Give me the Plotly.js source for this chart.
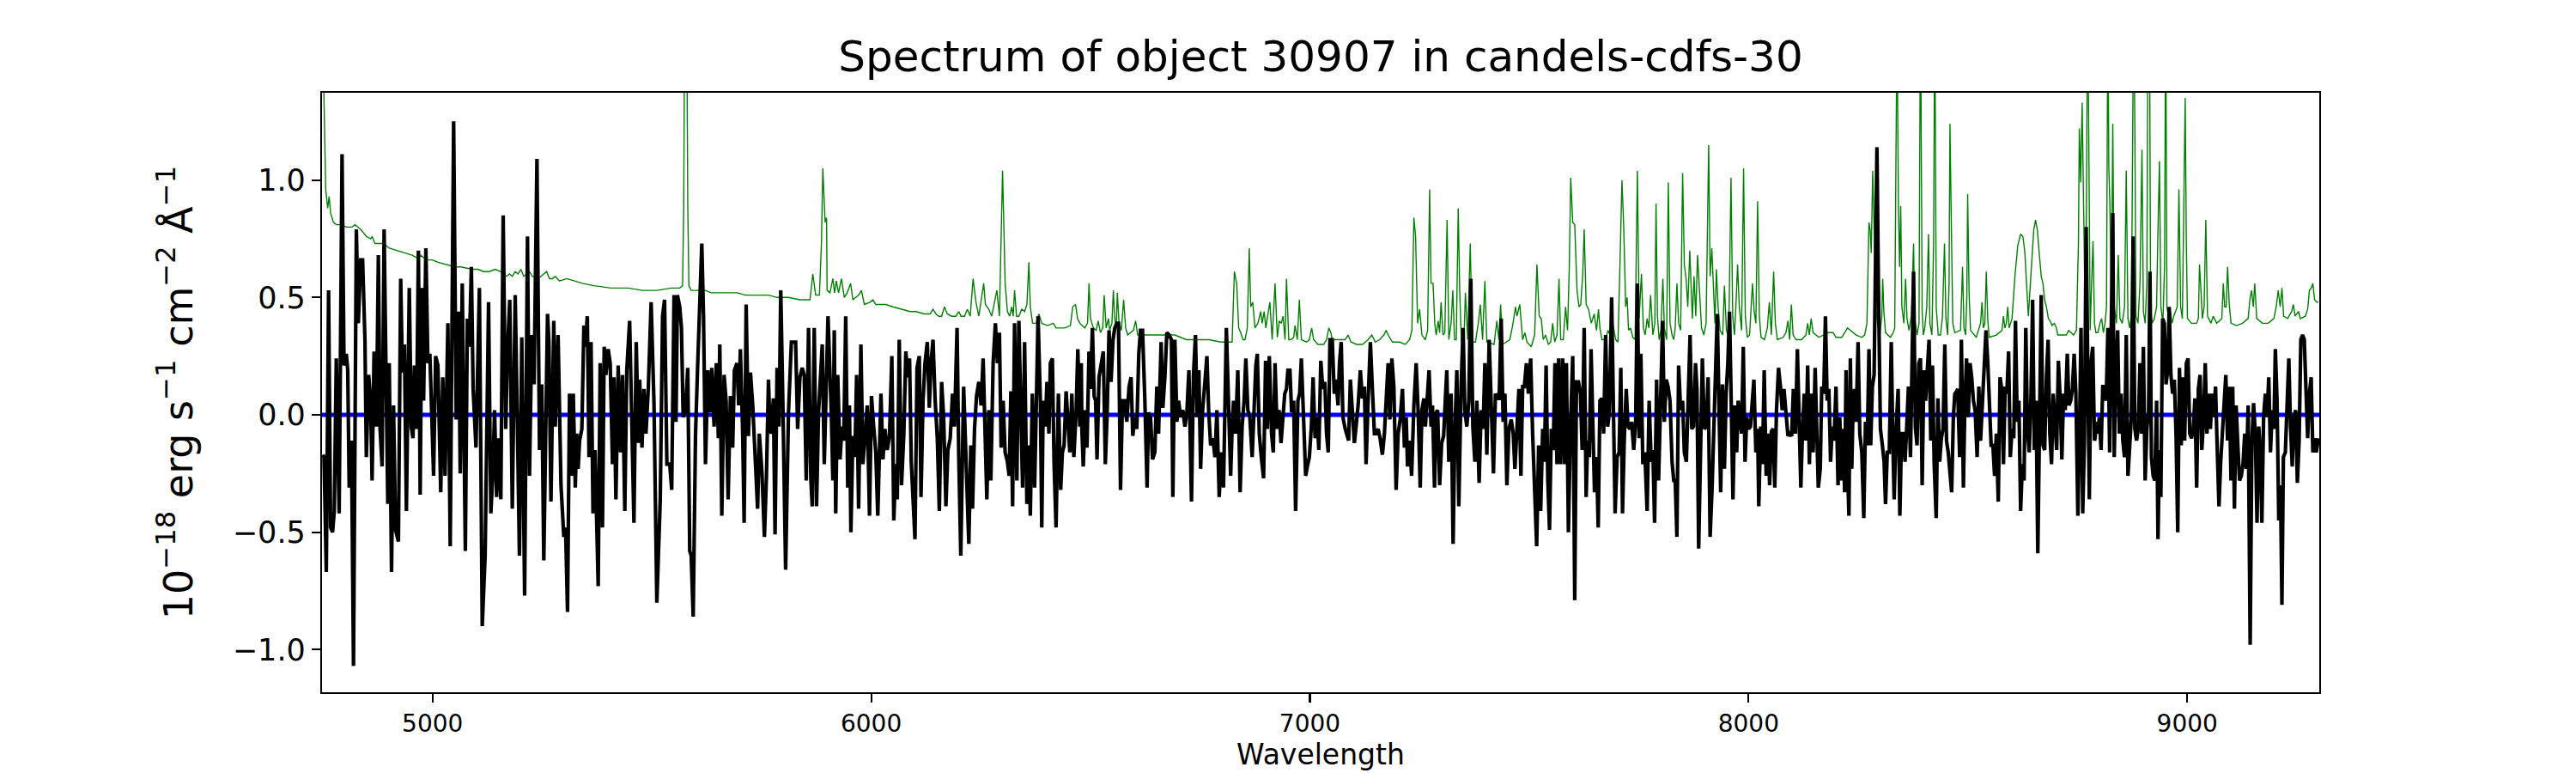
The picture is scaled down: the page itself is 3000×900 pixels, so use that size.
<!DOCTYPE html>
<html>
<head>
<meta charset="utf-8">
<script src="https://cdn.plot.ly/plotly-3.0.1.min.js"></script>
<style>html,body{margin:0;padding:0;background:#fff;}#chart{width:3000px;height:900px;}</style>
</head>
<body>
<div id="chart"></div>
<script>
// Observed spectrum: [wavelength (Å), flux (1e-18 erg/s/cm2/Å)]
const fluxPoints = [
[4750.0,-0.17],[4752.6,-0.18],[4757.8,-0.67],[4763.0,0.53],[4767.6,-0.48],[4772.1,-0.50],[4776.0,-0.41],[4780.6,0.24],[4787.1,-0.42],[4793.7,1.11],[4798.2,0.21],[4803.4,0.26],[4806.7,0.19],[4810.0,-0.31],[4815.2,-0.11],[4819.8,-1.07],[4826.3,0.79],[4830.8,0.39],[4836.1,0.66],[4840.6,0.66],[4845.9,0.32],[4849.1,-0.18],[4854.3,0.17],[4858.9,0.06],[4862.2,-0.28],[4866.7,0.27],[4872.0,-0.05],[4876.5,0.68],[4880.4,-0.06],[4885.0,-0.22],[4889.6,0.79],[4894.8,-0.06],[4898.0,-0.38],[4901.3,0.22],[4906.5,-0.67],[4911.1,0.04],[4915.7,-0.49],[4922.2,-0.54],[4927.4,0.58],[4931.3,0.18],[4935.9,0.30],[4940.4,-0.41],[4947.0,0.54],[4951.5,-0.05],[4955.4,-0.10],[4958.7,0.21],[4963.3,-0.06],[4967.8,0.70],[4971.8,-0.34],[4975.7,0.54],[4979.6,0.06],[4984.8,0.71],[4989.4,0.22],[4993.9,0.26],[4997.2,0.06],[5002.4,-0.26],[5007.0,0.25],[5012.2,0.21],[5018.7,-0.33],[5023.3,0.16],[5028.5,-0.26],[5035.0,0.39],[5040.3,-0.56],[5048.1,1.25],[5054.0,-0.02],[5059.2,0.44],[5063.1,-0.25],[5067.7,0.56],[5074.8,-0.58],[5079.4,0.41],[5084.0,0.29],[5088.5,0.63],[5092.5,0.11],[5099.0,-0.14],[5106.8,0.54],[5113.3,-0.90],[5119.9,-0.60],[5127.7,0.48],[5132.9,-0.42],[5137.5,-0.25],[5141.4,0.02],[5146.0,-0.35],[5151.2,-0.10],[5155.7,-0.36],[5161.0,0.85],[5166.8,-0.06],[5170.7,0.26],[5176.0,0.49],[5181.8,-0.40],[5188.4,0.51],[5192.9,0.02],[5198.1,-0.60],[5203.4,0.33],[5209.9,-0.77],[5216.4,0.76],[5221.0,-0.26],[5226.2,0.34],[5231.4,0.13],[5238.0,1.09],[5243.8,-0.15],[5249.0,0.13],[5253.6,-0.62],[5262.1,0.43],[5265.3,0.31],[5269.9,-0.37],[5276.4,0.40],[5279.7,-0.05],[5286.2,0.34],[5292.8,-0.30],[5299.3,-0.52],[5303.2,-0.48],[5307.7,-0.84],[5312.3,0.09],[5316.9,-0.26],[5320.8,0.09],[5323.4,-0.31],
[5325.4,-0.31],[5328.6,-0.08],[5331.9,-0.23],[5335.2,-0.11],[5340.4,-0.06],[5345.0,0.38],[5348.2,0.29],[5352.8,0.42],[5356.7,-0.18],[5361.3,0.31],[5365.8,-0.42],[5370.4,-0.15],[5377.6,-0.73],[5382.1,0.22],[5387.4,-0.48],[5391.3,0.29],[5395.2,0.17],[5400.4,0.28],[5405.0,0.22],[5410.2,-0.21],[5413.5,0.16],[5418.0,-0.36],[5423.2,0.21],[5428.5,-0.16],[5433.0,0.17],[5438.3,-0.41],[5442.8,0.19],[5449.3,0.40],[5453.9,0.04],[5459.1,-0.46],[5464.3,0.31],[5469.6,-0.12],[5472.2,0.15],[5477.4,-0.14],[5482.0,0.11],[5486.5,-0.08],[5491.8,0.11],[5498.3,0.48],[5504.8,0.05],[5511.3,-0.80],[5519.1,-0.36],[5524.4,0.42],[5528.9,0.49],[5534.2,-0.21],[5540.7,-0.21],[5545.2,-0.32],[5550.5,0.51],[5555.0,-0.03],[5558.3,0.51],[5563.5,0.46],[5567.4,0.37],[5571.3,-0.01],[5576.6,0.02],[5581.8,0.20],[5586.3,-0.58],[5589.6,-0.60],[5594.2,-0.86],[5599.4,-0.09],[5604.0,0.19],[5609.2,0.44],[5613.8,0.73],[5617.7,0.42],[5622.2,-0.21],[5627.5,0.19],[5632.0,0.01],[5636.6,0.20],[5641.8,-0.05],[5647.0,0.22],[5651.6,-0.10],[5654.8,0.30],[5659.4,-0.43],[5664.6,0.17],[5669.2,0.06],[5673.8,-0.36],[5679.0,0.08],[5684.2,-0.14],[5688.1,0.19],[5694.0,0.22],[5697.9,0.04],[5701.8,0.28],[5707.0,-0.08],[5710.3,-0.46],[5714.9,0.47],[5720.1,-0.09],[5724.7,0.18],[5729.9,0.04],[5736.4,-0.22],[5741.0,-0.40],[5744.9,-0.08],[5750.8,-0.24],[5756.6,-0.52],[5761.2,-0.26],[5765.8,0.15],[5769.0,-0.05],[5772.3,-0.08],[5776.9,0.07],[5780.8,-0.51],[5785.3,0.20],[5789.9,-0.05],[5793.8,0.53],[5798.4,0.07],[5804.9,-0.66],[5811.4,0.01],[5814.7,0.22],[5818.0,0.31],[5822.5,0.31],[5827.7,0.31],[5832.3,-0.06],[5837.5,0.16],[5842.7,0.20],[5847.3,0.17],[5851.9,-0.28],[5857.1,0.37],[5862.3,-0.27],[5865.6,-0.39],[5870.1,0.37],[5875.4,-0.39],[5879.9,0.01],[5883.2,0.12],[5888.4,0.30],[5893.0,-0.21],[5897.5,0.07],[5901.5,0.42],
[5909.3,-0.01],[5912.6,-0.28],[5915.8,0.36],[5919.1,-0.42],[5923.7,0.17],[5928.9,-0.19],[5933.4,-0.05],[5937.4,-0.11],[5941.9,0.42],[5946.5,-0.31],[5950.4,0.04],[5953.7,-0.50],[5958.2,-0.09],[5962.8,-0.18],[5966.7,0.17],[5971.3,-0.40],[5976.5,0.30],[5981.1,-0.21],[5985.6,-0.10],[5990.9,0.04],[5996.1,-0.43],[6000.6,0.08],[6005.2,-0.04],[6010.4,-0.16],[6015.0,-0.43],[6018.9,-0.08],[6022.2,0.09],[6026.7,-0.19],[6031.3,-0.06],[6036.5,-0.15],[6041.7,-0.09],[6047.0,0.25],[6051.5,-0.45],[6056.1,-0.21],[6059.4,-0.36],[6063.9,0.32],[6069.1,-0.30],[6074.4,-0.08],[6078.9,0.27],[6083.5,0.16],[6087.4,0.24],[6091.3,-0.20],[6095.2,-0.35],[6099.8,-0.53],[6104.4,0.20],[6109.6,0.25],[6113.5,-0.35],[6118.1,0.06],[6122.6,0.22],[6127.9,0.31],[6132.4,0.03],[6136.3,0.22],[6140.9,0.32],[6145.5,0.07],[6150.7,-0.10],[6155.3,-0.41],[6160.5,0.14],[6165.1,-0.01],[6170.3,-0.39],[6174.8,-0.15],[6180.1,-0.10],[6185.3,0.09],[6189.8,-0.05],[6195.7,0.37],[6199.6,-0.18],[6204.2,-0.60],[6210.7,0.12],[6215.9,-0.18],[6222.5,-0.55],[6227.0,-0.13],[6231.0,-0.40],[6235.5,-0.06],[6240.1,0.08],[6245.3,0.14],[6250.5,0.04],[6255.1,0.24],[6259.7,-0.14],[6263.6,-0.36],[6268.1,0.02],[6272.7,-0.28],[6277.9,0.22],[6283.1,0.39],[6287.7,0.22],[6292.3,0.35],[6296.2,-0.14],[6300.8,0.06],[6305.3,-0.16],[6310.5,-0.20],[6314.5,-0.26],[6318.4,0.10],[6322.3,-0.39],[6326.8,0.39],[6332.1,-0.28],[6336.6,0.40],[6341.2,0.01],[6345.1,-0.31],[6349.7,0.31],[6354.9,-0.38],[6359.5,-0.13],[6362.7,-0.43],[6367.3,0.09],[6372.5,-0.31],[6377.1,0.11],[6380.3,0.42],[6385.6,0.06],[6388.8,-0.48],[6392.1,0.06],[6396.7,-0.05],[6400.6,0.14],[6405.1,-0.08],[6408.4,0.22],[6413.0,0.24],[6416.9,-0.21],[6421.4,-0.48],[6426.7,0.09],[6431.9,-0.32],[6435.8,-0.16],[6439.7,-0.13],[6444.3,0.10],[6448.8,-0.06],[6452.8,-0.16],[6457.3,0.09],[6461.9,-0.18],[6467.1,0.01],[6471.0,0.28],[6475.6,-0.05],[6478.9,0.22],
[6480.2,-0.06],[6483.4,-0.22],[6488.0,0.02],[6491.9,-0.14],[6496.5,0.27],[6499.8,0.11],[6504.3,0.37],[6508.2,0.08],[6511.5,0.06],[6514.8,-0.19],[6519.3,0.16],[6523.9,0.21],[6529.1,0.27],[6533.7,-0.21],[6537.6,-0.01],[6542.2,0.36],[6546.7,0.14],[6551.3,0.32],[6555.2,0.37],[6559.8,0.39],[6563.7,0.39],[6568.3,-0.32],[6572.8,0.06],[6578.0,0.06],[6582.6,-0.03],[6587.8,0.12],[6592.4,0.16],[6596.3,-0.09],[6600.9,-0.01],[6605.4,-0.06],[6610.0,0.26],[6613.9,0.36],[6618.5,0.36],[6623.7,0.07],[6628.9,-0.31],[6632.2,0.01],[6636.8,-0.01],[6641.3,-0.19],[6646.5,-0.16],[6651.1,0.12],[6655.0,-0.08],[6660.9,0.31],[6664.8,0.03],[6669.4,0.16],[6673.9,0.35],[6679.2,0.34],[6684.4,0.32],[6687.6,-0.35],[6692.2,0.32],[6696.8,-0.03],[6700.7,0.06],[6705.3,-0.01],[6710.5,0.02],[6715.1,-0.05],[6719.6,0.01],[6724.2,0.19],[6730.1,-0.37],[6734.6,0.17],[6739.2,0.34],[6743.1,-0.01],[6747.0,0.19],[6750.9,-0.23],[6755.5,0.02],[6760.7,0.14],[6765.3,0.25],[6769.2,0.02],[6773.8,-0.13],[6779.0,-0.10],[6783.6,-0.18],[6788.1,0.02],[6793.3,-0.35],[6797.9,-0.16],[6803.1,-0.31],[6809.6,0.37],[6814.2,0.01],[6819.4,-0.26],[6822.7,-0.06],[6826.0,0.06],[6830.5,-0.08],[6835.7,0.19],[6841.0,-0.33],[6845.5,-0.05],[6850.1,0.06],[6854.0,0.24],[6858.6,0.02],[6863.1,-0.01],[6868.4,-0.18],[6872.3,0.06],[6876.8,0.21],[6880.1,0.26],[6884.7,-0.08],[6889.2,-0.18],[6894.5,-0.27],[6899.0,0.23],[6902.9,-0.06],[6907.5,0.25],[6912.7,-0.08],[6916.6,-0.16],[6920.6,0.22],[6925.1,-0.06],[6929.7,0.02],[6934.2,-0.12],[6938.2,-0.01],[6942.7,0.09],[6946.6,0.11],[6949.9,0.19],[6954.5,0.19],[6958.4,0.01],[6963.0,0.06],[6967.5,-0.41],[6972.7,0.06],[6976.7,0.09],[6980.6,0.24],[6985.8,-0.01],[6990.4,-0.26],[6994.3,-0.22],[6998.8,-0.18],[7003.4,-0.05],[7007.3,0.16],[7011.9,-0.10],[7016.5,-0.01],[7020.4,-0.15],[7024.9,0.23],[7029.5,0.11],[7034.1,0.14],[7038.0,-0.08],[7041.9,-0.16],[7045.8,0.32],[7051.0,0.32],[7055.6,0.09],
[7059.6,0.15],[7064.2,0.04],[7067.5,0.22],[7071.4,0.31],[7075.3,-0.01],[7080.5,-0.06],[7083.8,-0.08],[7088.3,-0.11],[7092.3,0.15],[7096.8,0.01],[7101.4,-0.12],[7105.3,-0.05],[7109.9,0.04],[7115.1,0.19],[7119.7,0.07],[7124.2,0.12],[7128.1,-0.21],[7132.7,0.06],[7137.9,0.31],[7142.5,0.11],[7147.1,-0.08],[7151.0,-0.08],[7155.5,-0.06],[7160.1,-0.10],[7165.3,-0.17],[7169.9,-0.08],[7173.8,0.06],[7178.4,0.22],[7182.3,-0.02],[7186.9,0.24],[7191.4,0.12],[7196.6,-0.32],[7201.2,-0.08],[7205.8,-0.02],[7211.0,0.11],[7215.6,-0.14],[7219.5,-0.01],[7222.7,-0.22],[7227.3,-0.11],[7231.9,-0.26],[7237.1,0.04],[7242.3,0.22],[7246.9,0.01],[7251.5,-0.31],[7255.4,0.02],[7259.9,0.07],[7263.2,-0.05],[7267.8,0.07],[7271.7,0.19],[7276.2,-0.05],[7279.5,0.04],[7284.1,-0.31],[7288.0,0.01],[7291.2,0.02],[7295.8,-0.30],[7300.4,-0.12],[7304.9,-0.09],[7308.9,0.07],[7312.1,0.19],[7316.7,-0.20],[7321.9,0.09],[7326.5,-0.55],[7330.4,-0.08],[7335.0,0.19],[7339.5,-0.39],[7344.7,0.12],[7349.3,0.37],[7353.2,0.02],[7357.8,-0.05],[7362.3,0.06],[7366.9,0.58],[7371.5,-0.05],[7376.1,-0.20],[7380.6,0.06],[7385.8,-0.29],[7390.4,0.02],[7395.0,-0.06],[7398.9,0.22],[7403.4,-0.17],[7408.7,0.32],[7413.2,0.06],[7418.5,-0.25],[7423.0,0.09],[7427.6,0.07],[7431.5,0.07],[7436.1,0.41],[7440.6,-0.03],[7444.6,0.09],[7449.1,-0.30],[7453.7,-0.06],[7458.9,-0.02],[7463.5,-0.08],[7467.4,-0.23],[7471.9,-0.08],[7476.5,0.11],[7481.1,-0.26],[7485.0,0.12],[7488.9,0.12],[7493.5,0.22],[7498.1,0.09],[7503.3,0.24],[7507.8,-0.08],[7512.4,-0.36],[7517.0,-0.56],[7521.5,-0.13],[7526.1,-0.41],[7530.7,-0.06],[7534.6,-0.20],[7538.5,0.21],[7542.4,-0.28],[7546.3,-0.49],[7550.3,-0.06],[7554.8,-0.15],[7558.7,0.22],[7563.3,-0.21],[7567.2,0.24],[7571.8,-0.21],[7576.3,0.24],[7580.9,-0.21],[7584.8,0.22],[7589.4,-0.50],[7593.9,-0.06],[7599.2,0.25],[7603.8,-0.79],[7607.7,0.14],[7612.2,0.14],[7616.8,0.09],[7620.7,-0.15],[7625.3,0.37],[7629.8,-0.35],
[7633.1,-0.11],[7637.0,-0.18],[7641.0,0.28],[7644.9,-0.11],[7648.8,-0.33],[7653.4,-0.18],[7657.3,-0.48],[7661.2,0.06],[7665.7,0.07],[7669.7,-0.08],[7674.2,0.34],[7678.8,-0.05],[7682.7,0.01],[7687.9,0.50],[7691.8,-0.11],[7695.8,-0.42],[7700.3,-0.18],[7704.9,-0.16],[7708.8,0.20],[7712.7,-0.42],[7716.6,-0.11],[7721.2,0.11],[7725.1,-0.05],[7729.7,-0.06],[7733.6,-0.03],[7738.2,-0.15],[7742.7,-0.03],[7746.6,0.56],[7750.6,-0.10],[7754.5,0.26],[7759.0,-0.21],[7763.6,-0.16],[7768.8,-0.41],[7773.4,0.06],[7778.0,-0.20],[7781.9,-0.15],[7785.8,-0.46],[7790.4,0.15],[7794.9,-0.28],[7799.5,0.14],[7804.1,0.40],[7808.0,-0.03],[7812.5,0.15],[7816.5,0.12],[7821.0,0.06],[7825.6,-0.20],[7829.5,-0.28],[7832.8,-0.28],[7836.7,-0.52],[7840.6,0.21],[7845.2,0.02],[7849.7,0.06],[7853.6,-0.16],[7858.2,-0.20],[7862.8,0.06],[7866.7,0.34],[7870.6,-0.06],[7874.5,-0.05],[7879.1,0.22],[7882.4,0.11],[7886.3,-0.57],[7890.2,-0.08],[7894.7,0.24],[7899.3,-0.06],[7903.9,-0.05],[7907.8,0.16],[7912.4,-0.52],[7916.9,-0.31],[7920.8,-0.10],[7924.8,0.22],[7928.7,0.43],[7932.6,0.04],[7936.5,-0.33],[7940.4,0.13],[7945.0,-0.23],[7948.9,0.09],[7952.8,0.22],[7956.7,0.44],[7960.6,0.06],[7964.5,-0.36],[7968.5,0.04],[7973.0,-0.16],[7976.3,0.06],[7980.9,-0.01],[7984.1,-0.08],[7988.0,0.29],[7992.0,-0.20],[7995.9,-0.01],[8000.4,-0.06],[8004.4,-0.05],[8008.3,0.06],[8012.2,0.15],[8016.7,-0.16],[8020.7,-0.06],[8023.3,-0.39],[8027.8,-0.05],[8031.7,-0.21],[8035.7,0.19],[8040.2,-0.26],[8044.1,-0.08],[8048.1,-0.30],[8052.0,-0.07],[8055.9,-0.06],[8059.8,-0.31],[8063.7,0.02],[8068.3,0.20],[8072.8,0.12],[8076.8,0.02],[8080.7,0.11],[8085.2,0.01],[8089.8,-0.09],[8093.7,-0.08],[8098.3,-0.09],[8102.2,0.11],[8106.8,-0.08],[8111.3,0.28],[8115.3,-0.11],[8119.2,-0.31],[8123.1,-0.06],[8127.0,0.09],[8130.9,-0.11],[8134.8,0.21],[8138.7,-0.21],[8142.7,0.09],[8147.2,-0.16],[8151.8,0.20],[8155.7,-0.08],[8159.0,-0.31],[8163.5,-0.23],[8166.8,0.12],[8171.4,0.09],[8175.3,0.42],[8179.2,0.06],[8183.1,0.11],[8187.0,-0.20],[8190.9,-0.05],[8194.8,-0.11],[8199.4,0.12],[8204.0,-0.30],[8207.9,-0.01],
[8212.5,-0.28],[8215.7,-0.06],[8219.0,-0.33],[8222.3,0.19],[8225.5,-0.21],[8228.8,-0.43],[8232.1,0.24],[8235.3,-0.23],[8238.6,0.06],[8241.8,0.11],[8245.1,-0.03],[8249.7,0.31],[8253.6,-0.08],[8258.2,-0.16],[8262.7,-0.44],[8266.6,-0.03],[8270.6,-0.13],[8274.5,0.28],[8278.4,-0.13],[8282.3,0.12],[8286.2,0.17],[8289.5,0.81],[8292.7,1.14],[8296.0,0.56],[8300.6,-0.06],[8305.1,-0.13],[8309.0,-0.20],[8312.3,-0.38],[8316.2,-0.16],[8320.8,-0.16],[8325.4,0.31],[8328.6,-0.08],[8331.9,-0.36],[8336.4,-0.06],[8341.0,0.11],[8344.9,-0.43],[8348.8,-0.08],[8352.8,-0.08],[8356.7,-0.20],[8360.6,-0.05],[8364.5,0.12],[8369.1,-0.18],[8372.3,0.12],[8376.2,0.61],[8380.2,-0.05],[8384.1,-0.13],[8388.0,0.22],[8391.9,0.24],[8395.8,-0.30],[8399.7,0.19],[8403.6,0.06],[8407.6,0.17],[8411.5,0.32],[8415.4,-0.11],[8419.3,0.21],[8423.2,-0.21],[8427.8,-0.44],[8431.7,0.07],[8435.6,-0.20],[8439.5,-0.10],[8443.4,-0.06],[8447.4,0.30],[8451.3,-0.11],[8455.2,-0.16],[8459.1,-0.26],[8463.0,-0.33],[8466.9,-0.01],[8470.2,0.09],[8474.1,0.10],[8476.7,0.11],[8481.3,-0.18],[8485.2,0.32],[8489.8,-0.31],[8493.0,0.04],[8496.9,0.24],[8500.9,-0.01],[8504.8,0.22],[8508.7,0.16],[8512.6,0.06],[8516.5,0.02],[8521.1,-0.18],[8525.0,0.12],[8528.9,-0.11],[8532.8,0.06],[8537.4,0.22],[8541.3,0.36],[8545.2,0.23],[8549.1,-0.01],[8553.0,-0.13],[8557.0,-0.13],[8560.9,-0.26],[8564.8,-0.08],[8569.3,-0.37],[8573.3,0.16],[8577.2,0.11],[8581.1,-0.21],[8585.0,0.12],[8588.9,0.09],[8592.8,0.27],[8596.7,-0.18],[8600.7,-0.06],[8604.6,-0.10],[8608.5,0.40],[8612.4,-0.03],[8616.3,0.06],[8620.2,-0.41],[8624.2,-0.21],[8628.1,-0.28],[8632.0,0.37],[8635.9,-0.06],[8639.8,-0.16],[8643.7,0.07],[8647.6,0.49],[8651.5,-0.15],[8655.5,0.06],[8659.4,-0.59],[8663.3,-0.08],[8667.2,0.51],[8671.1,-0.13],[8675.0,-0.15],[8679.0,0.16],[8682.9,0.32],[8686.8,-0.08],[8690.7,-0.21],[8694.6,0.09],[8698.5,-0.06],[8702.4,-0.15],[8706.3,0.23],[8710.3,0.07],[8714.2,-0.19],[8718.1,0.09],[8722.0,0.02],[8726.6,0.26],[8730.5,0.04],[8734.4,0.06],[8738.3,0.11],[8742.2,0.26],[8746.2,0.09],[8750.7,-0.43],[8754.6,-0.06],[8757.9,0.37],[8761.8,-0.42],[8765.7,-0.11],[8769.6,0.80],[8773.6,-0.06],[8776.8,-0.36],[8780.7,0.22],[8784.6,0.29],[8788.6,-0.11],
[8789.9,-0.10],[8793.1,-0.03],[8796.4,-0.08],[8799.7,-0.01],[8803.6,-0.15],[8807.5,0.12],[8811.4,0.12],[8815.3,0.06],[8819.2,0.37],[8823.2,-0.16],[8827.1,0.37],[8830.3,0.86],[8833.6,-0.18],[8837.5,0.19],[8841.4,0.36],[8845.3,-0.08],[8849.3,0.09],[8853.2,-0.11],[8857.1,-0.18],[8861.0,0.34],[8864.9,-0.26],[8868.8,-0.16],[8872.7,-0.01],[8876.7,0.76],[8880.6,-0.06],[8884.5,-0.11],[8888.4,-0.06],[8892.3,0.22],[8896.2,-0.08],[8900.1,0.29],[8904.1,-0.28],[8908.0,-0.06],[8911.9,0.01],[8915.1,0.61],[8918.4,-0.18],[8922.3,-0.26],[8926.2,-0.28],[8930.2,0.06],[8933.4,-0.53],[8936.7,-0.15],[8939.9,-0.35],[8943.9,0.41],[8947.8,0.39],[8951.7,0.13],[8955.6,0.19],[8958.9,0.46],[8962.8,0.17],[8966.7,0.09],[8970.6,0.15],[8974.5,-0.08],[8978.4,-0.50],[8982.3,0.20],[8986.3,-0.13],[8990.2,0.16],[8994.1,-0.11],[8998.0,0.22],[9001.9,0.24],[9005.8,-0.08],[9009.7,-0.10],[9013.7,-0.06],[9017.6,0.07],[9021.5,-0.31],[9025.4,0.11],[9029.3,0.17],[9033.2,-0.15],[9037.1,-0.03],[9041.1,0.22],[9045.0,-0.08],[9048.9,0.09],[9052.8,-0.06],[9056.7,0.09],[9060.6,-0.01],[9064.5,0.12],[9068.5,-0.15],[9072.4,-0.39],[9076.3,-0.20],[9080.2,-0.06],[9084.1,0.06],[9088.0,0.17],[9091.9,-0.11],[9095.9,0.12],[9099.8,-0.28],[9103.7,0.12],[9107.6,-0.40],[9111.5,0.04],[9115.4,-0.13],[9119.3,-0.28],[9123.3,-0.26],[9127.2,-0.21],[9131.1,-0.08],[9135.0,-0.23],[9138.9,0.04],[9143.5,-0.98],[9147.4,-0.11],[9151.3,0.05],[9155.2,-0.08],[9159.1,-0.46],[9163.1,-0.05],[9167.0,-0.18],[9170.2,-0.46],[9174.1,-0.01],[9178.1,0.09],[9182.0,-0.01],[9185.9,0.16],[9189.8,-0.16],[9193.7,0.02],[9197.6,-0.06],[9200.9,0.28],[9204.8,0.06],[9208.7,-0.45],[9212.6,-0.30],[9215.9,-0.81],[9219.2,-0.18],[9223.7,-0.16],[9227.7,0.09],[9231.6,0.24],[9235.5,-0.05],[9239.4,-0.22],[9243.3,-0.01],[9247.2,0.02],[9251.1,-0.29],[9255.1,-0.11],[9259.0,0.32],[9262.9,0.34],[9266.8,0.32],[9270.7,0.09],[9274.6,-0.10],[9278.5,0.09],[9282.5,0.16],[9286.4,-0.16],[9290.3,-0.10],[9294.2,-0.16],[9298.8,-0.10]
];

// Noise / sky spectrum: [wavelength (Å), value]
const noisePoints = [
[4749.9,1.60],[4751.2,1.45],[4756.5,0.96],[4761.0,0.88],[4764.3,0.93],[4767.6,0.86],[4774.1,0.82],[4780.6,0.81],[4790.4,0.81],[4803.4,0.80],[4816.5,0.80],[4823.0,0.81],[4836.1,0.79],[4849.1,0.76],[4858.9,0.75],[4862.2,0.76],[4868.7,0.73],[4878.5,0.73],[4888.3,0.73],[4901.3,0.71],[4917.6,0.70],[4933.9,0.69],[4953.5,0.68],[4963.3,0.67],[4973.1,0.68],[4986.1,0.66],[4999.2,0.66],[5012.2,0.65],[5031.8,0.64],[5051.4,0.63],[5064.4,0.63],[5090.5,0.62],[5103.5,0.62],[5116.6,0.61],[5129.6,0.61],[5142.7,0.62],[5155.7,0.61],[5168.8,0.59],[5175.3,0.60],[5181.8,0.59],[5188.4,0.61],[5194.9,0.60],[5201.4,0.62],[5207.9,0.59],[5221.0,0.61],[5227.5,0.59],[5240.5,0.58],[5253.6,0.60],[5260.1,0.61],[5266.6,0.58],[5273.2,0.58],[5279.7,0.59],[5289.5,0.57],[5305.8,0.58],[5325.4,0.57],
[5341.7,0.56],[5367.8,0.55],[5406.9,0.54],[5446.1,0.54],[5478.7,0.53],[5511.3,0.53],[5543.9,0.54],[5563.5,0.54],[5570.0,0.55],[5572.6,0.89],[5574.6,1.60],[5576.6,2.50],[5579.8,1.60],[5581.8,0.89],[5584.4,0.55],[5589.6,0.53],[5596.1,0.53],[5615.7,0.53],[5622.2,0.53],[5635.3,0.52],[5654.8,0.52],[5674.4,0.52],[5694.0,0.52],[5713.6,0.51],[5739.7,0.51],[5765.8,0.51],[5785.3,0.50],[5811.4,0.50],[5837.5,0.49],[5860.4,0.49],[5866.9,0.60],[5873.4,0.51],[5881.9,0.51],[5886.5,0.73],[5889.7,1.05],[5893.0,0.86],[5894.9,0.82],[5898.2,0.84],
[5899.5,0.53],[5906.0,0.52],[5912.6,0.58],[5916.5,0.52],[5920.4,0.57],[5925.6,0.52],[5932.1,0.58],[5938.7,0.50],[5945.2,0.52],[5953.0,0.56],[5958.2,0.49],[5964.8,0.50],[5971.3,0.51],[5977.8,0.53],[5984.3,0.47],[5997.4,0.48],[6003.9,0.49],[6010.4,0.47],[6023.5,0.47],[6033.3,0.47],[6049.6,0.46],[6069.1,0.45],[6088.7,0.44],[6101.8,0.44],[6121.3,0.43],[6134.4,0.43],[6140.9,0.45],[6147.4,0.43],[6154.0,0.42],[6160.5,0.42],[6167.0,0.46],[6173.5,0.43],[6183.3,0.42],[6193.1,0.42],[6199.6,0.44],[6204.8,0.42],[6212.7,0.42],[6219.2,0.45],[6225.7,0.42],[6232.2,0.58],[6238.8,0.48],[6245.3,0.42],[6256.4,0.56],[6260.3,0.47],[6268.1,0.45],[6274.7,0.42],[6279.9,0.47],[6286.4,0.53],[6292.3,0.42],[6296.2,0.84],[6299.4,1.04],[6302.7,0.78],[6305.3,0.56],[6310.5,0.44],[6315.8,0.42],[6320.3,0.46],[6323.6,0.42],[6326.8,0.53],[6331.4,0.42],[6336.6,0.42],[6343.2,0.45],[6349.7,0.44],[6354.9,0.47],[6359.5,0.65],[6362.7,0.46],[6367.9,0.39],[6375.8,0.39],[6382.3,0.43],[6388.8,0.39],[6401.9,0.38],[6414.9,0.39],[6421.4,0.37],[6428.0,0.37],[6441.0,0.37],[6454.1,0.38],[6459.3,0.46],[6465.8,0.47],[6470.4,0.41],[6475.6,0.39],[6480.2,0.38],
[6486.7,0.37],[6493.2,0.39],[6496.5,0.56],[6499.8,0.41],[6506.3,0.37],[6512.8,0.36],[6517.4,0.40],[6522.6,0.35],[6527.8,0.37],[6531.1,0.51],[6535.6,0.37],[6540.9,0.41],[6543.5,0.36],[6548.7,0.39],[6552.0,0.53],[6555.2,0.41],[6558.5,0.37],[6561.1,0.52],[6565.0,0.39],[6570.2,0.36],[6575.4,0.49],[6580.0,0.37],[6584.6,0.34],[6597.6,0.36],[6602.8,0.40],[6607.4,0.34],[6620.5,0.34],[6640.0,0.34],[6666.1,0.34],[6692.2,0.34],[6718.3,0.32],[6744.4,0.32],[6770.5,0.32],[6796.6,0.31],[6822.7,0.31],[6827.9,0.61],[6833.1,0.56],[6837.7,0.37],[6842.3,0.35],[6847.5,0.32],[6852.1,0.32],[6857.3,0.37],[6861.8,0.71],[6865.1,0.46],[6869.7,0.48],[6874.9,0.37],[6881.4,0.39],[6888.0,0.44],[6891.2,0.39],[6895.8,0.44],[6899.7,0.37],[6903.6,0.42],[6908.8,0.48],[6914.0,0.32],[6920.6,0.56],[6925.8,0.33],[6930.3,0.40],[6934.9,0.39],[6938.8,0.42],[6943.4,0.32],[6946.7,0.58],[6951.9,0.32],[6956.4,0.32],[6963.0,0.33],[6966.2,0.38],[6971.4,0.32],[6976.0,0.49],[6980.6,0.32],[6992.3,0.31],[6998.8,0.32],[7004.1,0.37],[7008.6,0.32],[7018.4,0.30],[7031.5,0.30],[7038.0,0.32],[7043.2,0.37],[7047.8,0.35],[7051.0,0.32],
[7060.9,0.32],[7070.7,0.32],[7080.5,0.32],[7087.0,0.34],[7093.6,0.31],[7106.6,0.30],[7119.7,0.30],[7132.7,0.32],[7141.2,0.34],[7149.0,0.31],[7158.8,0.32],[7168.6,0.34],[7173.8,0.36],[7178.4,0.34],[7188.2,0.31],[7204.5,0.31],[7217.5,0.30],[7227.3,0.32],[7232.5,0.36],[7237.1,0.84],[7241.0,0.76],[7245.6,0.39],[7250.1,0.45],[7255.4,0.34],[7263.2,0.32],[7268.4,0.36],[7273.0,0.96],[7276.2,0.56],[7280.8,0.56],[7284.7,0.39],[7288.0,0.34],[7292.5,0.40],[7295.8,0.35],[7299.1,0.48],[7303.6,0.34],[7307.6,0.35],[7312.8,0.83],[7316.7,0.32],[7321.9,0.39],[7325.8,0.53],[7329.8,0.32],[7333.7,0.32],[7338.2,0.88],[7341.5,0.53],[7345.4,0.31],[7351.3,0.32],[7354.5,0.52],[7359.8,0.32],[7365.6,0.73],[7370.2,0.31],[7377.4,0.31],[7383.9,0.39],[7388.5,0.47],[7393.7,0.32],[7398.9,0.57],[7403.4,0.31],[7419.8,0.30],[7426.3,0.40],[7430.9,0.32],[7434.8,0.47],[7439.3,0.30],[7455.7,0.32],[7462.2,0.38],[7468.7,0.46],[7472.0,0.42],[7478.5,0.47],[7485.0,0.32],[7490.2,0.35],[7494.8,0.31],[7504.6,0.29],[7512.4,0.34],[7517.6,0.64],[7522.8,0.42],[7527.4,0.41],[7532.0,0.32],[7537.2,0.34],[7543.7,0.30],[7548.9,0.31],[7553.5,0.39],[7558.1,0.31],[7563.3,0.34],[7567.9,0.58],[7571.8,0.32],[7577.7,0.32],[7582.9,0.46],[7587.4,0.36],[7591.4,0.63],[7594.6,1.01],[7599.2,0.82],[7603.8,0.81],[7609.0,0.53],[7613.5,0.46],[7617.5,0.47],[7622.0,0.60],[7625.3,0.79],[7629.8,0.47],[7635.1,0.45],
[7641.6,0.39],[7648.1,0.43],[7653.4,0.36],[7657.9,0.45],[7661.2,0.37],[7665.7,0.32],[7674.2,0.32],[7679.5,0.36],[7684.0,0.34],[7690.5,0.39],[7697.1,0.32],[7702.3,0.31],[7706.9,0.64],[7711.4,1.00],[7715.3,0.81],[7719.9,0.46],[7723.2,0.50],[7726.4,0.36],[7731.0,0.37],[7736.2,0.33],[7741.4,0.32],[7746.6,1.04],[7750.6,0.41],[7755.8,0.60],[7760.3,0.37],[7764.3,0.34],[7768.8,0.41],[7772.7,0.37],[7776.7,0.51],[7781.9,0.34],[7786.4,0.39],[7789.1,0.90],[7792.3,0.42],[7796.2,0.32],[7800.1,0.36],[7804.7,0.58],[7808.0,0.37],[7813.2,0.32],[7817.1,0.99],[7821.0,0.39],[7825.6,0.34],[7829.5,0.32],[7832.8,0.37],[7836.7,0.56],[7840.6,0.39],[7845.2,0.36],[7849.7,1.03],[7853.6,0.64],[7857.6,0.58],[7861.5,0.46],[7866.0,0.70],[7870.0,0.49],[7871.9,0.41],[7875.8,0.59],[7879.7,0.42],[7883.7,0.68],[7887.6,0.53],[7892.8,0.37],[7898.0,0.34],[7903.2,0.39],[7909.1,1.15],[7912.4,0.59],[7916.3,0.71],[7920.2,0.53],[7923.4,0.39],[7926.7,0.62],[7930.6,0.46],[7935.2,0.36],[7941.1,0.34],[7945.0,0.55],[7949.5,0.36],[7954.8,0.33],[7960.0,1.01],[7963.9,0.42],[7967.8,0.34],[7971.1,0.46],[7975.0,0.64],[7978.9,0.46],[7984.1,0.36],[7988.7,1.05],[7992.6,0.42],[7997.2,0.33],[8002.4,0.34],[8008.9,0.56],[8012.8,0.44],[8016.7,0.39],[8020.7,0.91],[8024.6,0.42],[8028.5,0.33],[8036.3,0.32],[8042.8,0.37],[8047.4,0.48],[8052.0,0.34],[8057.2,0.61],[8061.1,0.39],[8065.7,0.32],[8078.7,0.33],[8085.2,0.35],[8089.8,0.40],[8093.7,0.32],[8097.6,0.47],[8101.6,0.34],[8108.1,0.32],[8121.1,0.32],[8130.9,0.34],[8134.8,0.39],[8138.7,0.34],[8142.7,0.41],[8147.2,0.35],[8160.3,0.33],[8181.2,0.35],[8192.9,0.35],[8199.4,0.33],[8212.5,0.33],
[8219.0,0.35],[8225.5,0.37],[8232.1,0.36],[8245.1,0.34],[8258.2,0.33],[8264.7,0.34],[8269.9,0.39],[8274.5,0.82],[8277.1,0.79],[8279.7,0.69],[8283.0,1.04],[8286.2,0.76],[8290.8,0.44],[8294.0,0.39],[8299.3,0.34],[8303.8,0.42],[8305.8,0.58],[8308.4,0.44],[8312.3,0.35],[8323.4,0.33],[8329.9,0.35],[8333.2,0.37],[8336.4,0.89],[8338.4,1.70],[8341.7,0.89],[8344.3,0.63],[8346.9,0.89],[8349.5,0.46],[8354.1,0.39],[8358.0,0.58],[8361.2,0.41],[8365.8,0.36],[8371.0,0.42],[8374.3,0.61],[8376.2,0.73],[8378.8,0.41],[8384.1,0.34],[8388.6,0.39],[8391.9,1.80],[8395.8,0.44],[8398.4,0.34],[8401.7,0.37],[8406.3,0.46],[8410.2,0.77],[8413.4,0.39],[8418.0,0.34],[8421.9,0.73],[8424.5,1.80],[8427.8,0.46],[8432.3,0.34],[8437.6,0.34],[8442.1,0.42],[8446.7,0.73],[8449.9,0.41],[8453.9,0.34],[8457.1,0.56],[8459.1,1.24],[8462.3,0.81],[8465.6,0.39],[8470.2,0.35],[8483.2,0.36],[8487.8,0.63],[8491.1,0.37],[8495.0,0.34],[8497.6,0.51],[8499.5,0.94],[8502.8,0.51],[8506.1,0.36],[8519.1,0.33],[8528.9,0.39],[8532.2,0.48],[8535.4,0.37],[8538.7,0.39],[8541.9,0.61],[8545.2,0.41],[8548.5,0.33],[8564.8,0.34],[8577.8,0.36],[8581.1,0.42],[8584.4,0.37],[8587.6,0.39],[8590.9,0.46],[8594.1,0.37],[8600.7,0.41],[8607.2,0.59],[8613.7,0.72],[8620.2,0.77],[8625.5,0.76],[8630.0,0.69],[8634.6,0.53],[8637.9,0.42],[8641.8,0.54],[8646.3,0.69],[8650.3,0.79],[8654.2,0.83],[8658.1,0.79],[8662.6,0.69],[8667.2,0.59],[8671.1,0.56],[8675.0,0.49],[8679.0,0.46],[8683.5,0.41],[8687.4,0.40],[8692.0,0.38],[8697.2,0.39],[8701.8,0.37],[8705.0,0.34],[8724.6,0.34],[8729.8,0.36],[8740.9,0.34],[8747.5,0.36],[8752.0,0.73],[8754.0,1.22],[8757.2,0.99],[8760.5,1.33],[8763.8,0.89],[8767.7,0.36],[8770.3,0.89],[8772.9,1.80],[8775.5,1.20],[8778.8,0.36],[8782.0,0.56],[8785.3,0.74],[8788.6,0.39],
[8791.8,0.35],[8796.4,0.35],[8801.0,0.39],[8804.9,0.41],[8808.8,0.35],[8812.7,0.39],[8816.0,0.46],[8819.2,1.80],[8821.2,1.06],[8823.8,0.89],[8827.1,0.42],[8830.3,1.24],[8833.6,0.46],[8838.8,0.39],[8842.7,0.68],[8846.6,0.41],[8851.9,0.39],[8857.1,0.46],[8861.0,1.04],[8864.9,0.41],[8868.8,0.37],[8872.7,0.42],[8875.4,1.15],[8878.0,1.80],[8880.6,1.23],[8883.2,0.42],[8887.7,0.39],[8892.3,0.56],[8896.9,1.13],[8900.1,0.44],[8904.1,0.39],[8908.0,0.56],[8910.6,1.80],[8913.9,1.80],[8916.5,0.46],[8919.8,0.39],[8925.0,0.41],[8930.2,0.46],[8932.8,0.74],[8936.7,1.08],[8940.0,0.46],[8944.5,0.39],[8948.4,0.64],[8951.0,1.80],[8953.7,0.46],[8957.6,0.41],[8961.5,0.44],[8965.4,0.39],[8969.3,0.42],[8973.3,0.44],[8977.2,0.46],[8981.1,0.96],[8985.0,0.46],[8988.9,0.41],[8991.5,0.89],[8995.4,1.35],[8998.0,0.73],[9000.6,0.41],[9009.7,0.39],[9021.5,0.39],[9025.4,0.41],[9028.0,0.64],[9031.3,0.53],[9034.5,0.41],[9038.5,0.46],[9042.4,0.83],[9046.3,0.42],[9054.1,0.39],[9059.3,0.42],[9067.2,0.39],[9078.9,0.41],[9082.2,0.56],[9085.4,0.46],[9088.7,0.46],[9092.0,0.63],[9095.9,0.47],[9099.8,0.39],[9112.8,0.38],[9125.9,0.39],[9138.9,0.41],[9142.8,0.49],[9146.7,0.53],[9150.7,0.46],[9153.9,0.56],[9158.5,0.41],[9171.5,0.39],[9184.6,0.39],[9197.6,0.41],[9202.9,0.46],[9207.4,0.53],[9212.0,0.46],[9215.9,0.54],[9219.8,0.42],[9228.9,0.41],[9238.1,0.44],[9242.0,0.47],[9245.9,0.42],[9253.8,0.44],[9257.7,0.41],[9269.4,0.42],[9274.6,0.45],[9278.5,0.53],[9282.5,0.54],[9286.4,0.56],[9290.3,0.49],[9295.5,0.48],[9298.8,0.48]
];

const xTickValues = [5000, 6000, 7000, 8000, 9000];
const xTickLabels = ['5000', '6000', '7000', '8000', '9000'];
const yTickValues = [-1.0, -0.5, 0.0, 0.5, 1.0];
const yTickLabels = ['\u22121.0', '\u22120.5', '0.0', '0.5', '1.0'];
const xRange = [4748, 9301];
const yRange = [-1.182, 1.372];
const zeroLevel = 0;

const traces = [
  {
    x: noisePoints.map(p => p[0]), y: noisePoints.map(p => p[1]),
    type: 'scatter', mode: 'lines',
    line: {color: '#008000', width: 1.4}, hoverinfo: 'skip'
  },
  {
    x: fluxPoints.map(p => p[0]), y: fluxPoints.map(p => p[1]),
    type: 'scatter', mode: 'lines',
    line: {color: '#000000', width: 4.2}, hoverinfo: 'skip'
  }
];

const axisCommon = {
  showline: true, linecolor: '#000', linewidth: 2.2, mirror: true,
  ticks: 'outside', ticklen: 10, tickwidth: 2.2, tickcolor: '#000',
  showgrid: false, zeroline: false, automargin: false
};

const layout = {
  width: 3000, height: 900,
  margin: {l: 375, r: 299, t: 108, b: 94, pad: 0},
  paper_bgcolor: '#fff', plot_bgcolor: '#fff',
  showlegend: false,
  font: {family: 'DejaVu Sans', color: '#000'},
  title: {
    text: 'Spectrum of object 30907 in candels-cdfs-30',
    font: {size: 50, family: 'DejaVu Sans', color: '#000'},
    x: 0.5, xref: 'paper', xanchor: 'center',
    y: 0.9267, yref: 'container', yanchor: 'middle'
  },
  xaxis: Object.assign({}, axisCommon, {
    range: xRange, tickmode: 'array', tickvals: xTickValues, ticktext: xTickLabels,
    tickfont: {size: 28, family: 'DejaVu Sans', color: '#000'},
    title: {text: 'Wavelength', font: {size: 33, family: 'DejaVu Sans', color: '#000'}, standoff: 4}
  }),
  yaxis: Object.assign({}, axisCommon, {
    range: yRange, tickmode: 'array', tickvals: yTickValues, ticktext: yTickLabels,
    tickfont: {size: 35, family: 'DejaVu Sans', color: '#000'},
    title: {text: '10<sup>\u221218</sup> erg s<sup>\u22121</sup> cm<sup>\u22122</sup> \u00c5<sup>\u22121</sup>',
            font: {size: 46, family: 'DejaVu Sans', color: '#000'}, standoff: 32}
  }),
  shapes: [{
    type: 'line', xref: 'paper', x0: 0, x1: 1, yref: 'y', y0: zeroLevel, y1: zeroLevel,
    line: {color: '#0000ff', width: 5}, layer: 'below'
  }]
};

Plotly.newPlot('chart', traces, layout, {staticPlot: true, displayModeBar: false});
</script>
</body>
</html>
